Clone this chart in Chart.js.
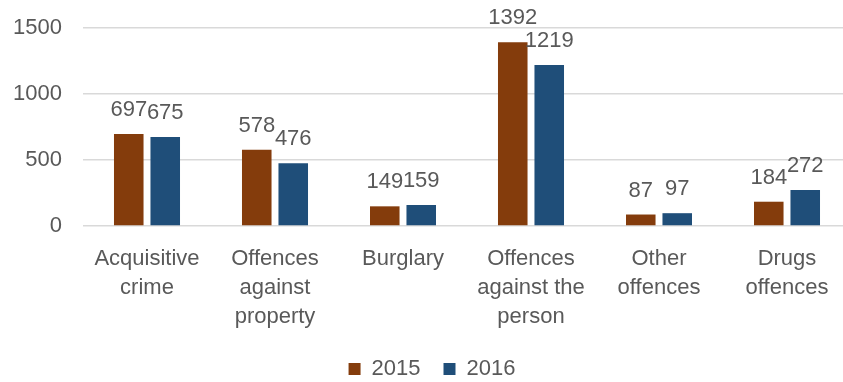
<!DOCTYPE html>
<html>
<head>
<meta charset="utf-8">
<script src="https://cdn.jsdelivr.net/npm/chart.js@4"></script>
<style>
  html, body { margin: 0; padding: 0; background: #fff; overflow: hidden; }
  /* chart is a bit wider than the window, its right edge runs off-screen */
  #wrap { width: 884px; height: 382px; }
</style>
</head>
<body>
<div id="wrap"><canvas id="crimeChart"></canvas></div>
<script>
// --- data ---
const categories = [
  ['Acquisitive', 'crime'],
  ['Offences', 'against', 'property'],
  ['Burglary'],
  ['Offences', 'against the', 'person'],
  ['Other', 'offences'],
  ['Drugs', 'offences']
];
const values2015 = [697, 578, 149, 1392, 87, 184];
const values2016 = [675, 476, 159, 1219, 97, 272];
const yTicks = [0, 500, 1000, 1500];

const fontFamily = "'Liberation Sans', Arial, sans-serif";
const textGrey = '#595959';

// value labels above each bar
const barLabels = {
  id: 'barLabels',
  afterDatasetsDraw(chart) {
    const ctx = chart.ctx;
    ctx.save();
    ctx.font = '22px ' + fontFamily;
    ctx.fillStyle = textGrey;
    ctx.textAlign = 'center';
    ctx.textBaseline = 'alphabetic';
    chart.data.datasets.forEach((ds, i) => {
      chart.getDatasetMeta(i).data.forEach((bar, j) => {
        ctx.fillText(String(ds.data[j]), bar.x, bar.y - 18);
      });
    });
    ctx.restore();
  }
};

new Chart(document.getElementById('crimeChart'), {
  type: 'bar',
  data: {
    labels: categories,
    datasets: [
      {
        label: '2015',
        data: values2015,
        backgroundColor: '#843C0C',
        categoryPercentage: 0.57,
        barPercentage: 0.81
      },
      {
        label: '2016',
        data: values2016,
        backgroundColor: '#1F4E79',
        categoryPercentage: 0.57,
        barPercentage: 0.81
      }
    ]
  },
  options: {
    responsive: true,
    maintainAspectRatio: false,
    animation: false,
    layout: { padding: { left: 13, right: 33, top: 28, bottom: -8 } },
    scales: {
      x: {
        grid: { display: false, drawTicks: false },
        border: { display: false },
        ticks: {
          color: textGrey,
          font: { family: fontFamily, size: 22, lineHeight: 1.3 },
          padding: 19,
          maxRotation: 0,
          autoSkip: false
        },
        // keep the label band tight so the legend sits close underneath
        afterFit(scale) {
          scale.height = 109;
        }
      },
      y: {
        min: 0,
        max: 1500,
        afterBuildTicks(axis) {
          axis.ticks = yTicks.map(v => ({ value: v }));
        },
        afterFit(scale) {
          scale.width = 70;
          scale.paddingTop = 0;
        },
        grid: { color: '#d9d9d9', lineWidth: 1.5, drawTicks: false },
        border: { display: false },
        ticks: {
          color: textGrey,
          font: { family: fontFamily, size: 22 },
          padding: 21,
          callback: v => String(v)
        }
      }
    },
    plugins: {
      legend: {
        position: 'bottom',
        labels: {
          color: textGrey,
          font: { family: fontFamily, size: 22 },
          boxWidth: 12,
          boxHeight: 12,
          padding: 23
        }
      },
      tooltip: { enabled: false }
    }
  },
  plugins: [barLabels]
});
</script>
</body>
</html>
